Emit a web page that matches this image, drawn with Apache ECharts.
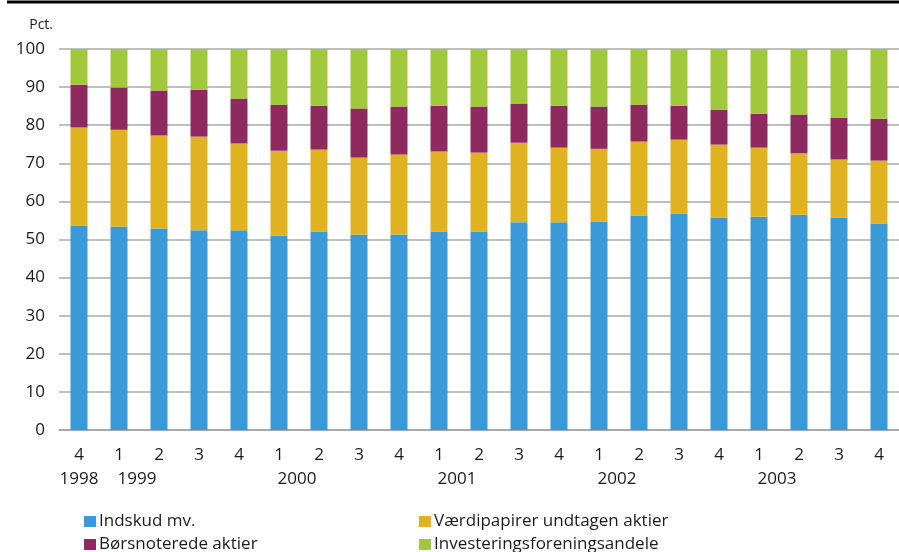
<!DOCTYPE html>
<html>
<head>
<meta charset="utf-8">
<script src="https://cdn.jsdelivr.net/npm/echarts@6/dist/echarts.min.js"></script>
<style>
  html, body { margin: 0; padding: 0; background: #fff; }
  #chart { width: 899px; height: 552px; }
</style>
</head>
<body>
<div id="chart"></div>
<script>
// kvartaler 1998K4 - 2003K4
var quarters = ['4', '1', '2', '3', '4', '1', '2', '3', '4', '1', '2', '3', '4', '1', '2', '3', '4', '1', '2', '3', '4'];
var years = ['1998', '1999', '', '', '', '2000', '', '', '', '2001', '', '', '', '2002', '', '', '', '2003', '', '', ''];

// andele i pct.
var indskud = [53.7, 53.4, 52.9, 52.4, 52.4, 51.0, 52.1, 51.3, 51.3, 52.1, 52.1, 54.5, 54.5, 54.7, 56.3, 56.8, 55.8, 56.0, 56.5, 55.8, 54.2];
var vaerdipapirer = [25.7, 25.4, 24.4, 24.6, 22.8, 22.3, 21.5, 20.2, 21.0, 21.0, 20.7, 20.9, 19.6, 19.1, 19.4, 19.4, 19.1, 18.1, 16.1, 15.2, 16.5];
var boersnoterede = [11.2, 11.1, 11.8, 12.3, 11.8, 12.1, 11.5, 12.9, 12.6, 12.0, 12.1, 10.3, 11.0, 11.1, 9.7, 8.9, 9.2, 8.9, 10.2, 11.0, 11.0];
var investering = [9.4, 10.1, 10.9, 10.7, 13.0, 14.6, 14.9, 15.6, 15.1, 14.9, 15.1, 14.3, 14.9, 15.1, 14.6, 14.9, 15.9, 17.0, 17.2, 18.0, 18.3];

var names = ['Indskud mv.', 'Værdipapirer undtagen aktier', 'Børsnoterede aktier', 'Investeringsforeningsandele'];
var colors = ['#3a9ad9', '#e1b21f', '#8e2a5f', '#a0c83a'];

var font = '"Open Sans", sans-serif';
var chart = echarts.init(document.getElementById('chart'));

function bar(i, data) {
  return {
    name: names[i],
    type: 'bar',
    stack: 'total',
    barWidth: 17,
    itemStyle: { color: colors[i] },
    data: data
  };
}

// en legende pr. serie, to kolonner
function legend(i, left, top) {
  return {
    left: left, top: top,
    data: [names[i]],
    icon: 'rect', itemWidth: 12, itemHeight: 11, itemGap: 0,
    textStyle: { fontSize: 17, color: '#1a1a1a', padding: [0, 0, 0, -2] }
  };
}

var option = {
  animation: false,
  textStyle: { fontFamily: font },
  grid: { left: 59, right: -7, top: 49, bottom: 122 },
  graphic: [{
    type: 'line',
    shape: { x1: 7, y1: 2, x2: 899, y2: 2 },
    style: { stroke: '#000', lineWidth: 3 }
  }],
  legend: [
    legend(0, 79, 508),
    legend(2, 79, 531),
    legend(1, 414, 508),
    legend(3, 414, 531)
  ],
  xAxis: [{
    type: 'category',
    data: quarters,
    position: 'bottom',
    axisLine: { lineStyle: { color: '#a0a0a0', width: 1.5 } },
    axisTick: { inside: true, length: 6, lineStyle: { color: '#a0a0a0' } },
    axisLabel: { fontSize: 17, color: '#1a1a1a', margin: 17, interval: 0 }
  }, {
    type: 'category',
    data: years,
    position: 'bottom',
    axisLine: { show: false },
    axisTick: { show: false },
    axisLabel: {
      fontSize: 17, color: '#1a1a1a', margin: 41, interval: 0,
      formatter: function (v, i) {
        if (!v) return '';
        return i === 0 ? '{c|' + v + '}' : '{r|' + v + '}';
      },
      rich: {
        c: { fontSize: 17, color: '#1a1a1a' },
        r: { fontSize: 17, color: '#1a1a1a', padding: [0, 0, 0, 36] }
      }
    }
  }],
  yAxis: {
    type: 'value',
    min: 0, max: 100, interval: 10,
    name: 'Pct.',
    nameGap: 17,
    nameTextStyle: { fontSize: 14, color: '#1a1a1a', align: 'right', padding: [0, 6, 0, 0] },
    axisLine: { show: false },
    axisTick: { show: false },
    axisLabel: { fontSize: 17, color: '#1a1a1a', margin: 14 },
    splitLine: { lineStyle: { color: '#aaaaaa', width: 1.5 } }
  },
  series: [
    bar(0, indskud),
    bar(1, vaerdipapirer),
    bar(2, boersnoterede),
    bar(3, investering)
  ]
};

chart.setOption(option);
</script>
</body>
</html>
